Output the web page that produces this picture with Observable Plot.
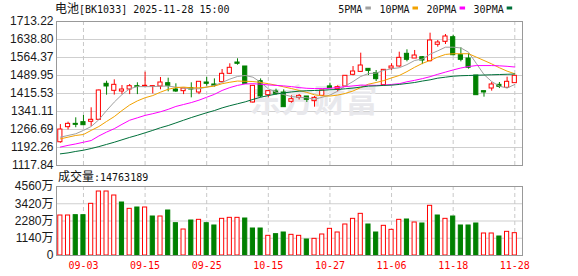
<!DOCTYPE html>
<html><head><meta charset="utf-8">
<script src="https://cdn.jsdelivr.net/npm/d3@7"></script>
<script src="https://cdn.jsdelivr.net/npm/@observablehq/plot@0.6"></script>
<style>
body{margin:0;background:#fff;}
#wrap{position:relative;width:578px;height:276px;overflow:hidden;background:#fff;}
#wrap svg{position:absolute;left:0;}
</style></head><body><div id="wrap"></div>
<script>
// ---- data ----
const dates = ["08-29","09-01","09-02","09-03","09-04","09-05","09-08","09-09","09-10","09-11","09-12","09-15","09-16","09-17","09-18","09-19","09-22","09-23","09-24","09-25","09-26","09-29","09-30","10-09","10-10","10-13","10-14","10-15","10-16","10-17","10-20","10-21","10-22","10-23","10-24","10-27","10-28","10-29","10-30","10-31","11-03","11-04","11-05","11-06","11-07","11-10","11-11","11-12","11-13","11-14","11-17","11-18","11-19","11-20","11-21","11-24","11-25","11-26","11-27","11-28"];
const open = [1214,1276.3,1290,1297,1298.5,1306.8,1455.6,1426.6,1423.8,1432,1445.8,1444.5,1444.5,1444.5,1458.2,1432,1425.2,1437.6,1419.7,1461,1452.8,1462.5,1496.9,1543.7,1527.2,1378.4,1466.5,1408.6,1423.8,1419.7,1381.2,1397.6,1403.2,1383.8,1405.9,1445,1433.4,1444.5,1492.8,1505,1517.5,1499.5,1450,1518.9,1527.2,1579.6,1560.2,1565.6,1549.1,1616.9,1629.2,1648.3,1573.9,1560.2,1490,1425.2,1436.2,1451.4,1439,1458.3];
const high = [1287,1297,1315,1324.6,1356.4,1430,1466.5,1472,1448.6,1452.8,1459.8,1503.7,1446.5,1481.7,1478.9,1455.6,1436.2,1459.8,1463.9,1483,1476,1514.8,1538.3,1559,1527.2,1449,1476,1427.9,1433.4,1430.8,1406,1411.3,1403.2,1403.2,1428,1458,1447,1489.5,1527,1582.3,1518,1510.6,1513.4,1538.3,1586.3,1596.2,1593.4,1568.4,1664.9,1634.7,1659.5,1656.7,1604.5,1579.6,1490,1425.2,1461,1461,1483,1488.7];
const low = [1210,1265,1274,1282,1279,1304,1408.6,1409,1411,1411,1411,1444.5,1414,1430.8,1422.5,1419.7,1411,1397.6,1411,1446,1441.7,1461,1494,1532.6,1452.8,1375.6,1397.6,1397.6,1408.6,1359,1375.6,1389,1378.4,1359,1403,1436,1422.5,1443,1488.7,1503,1490,1465.2,1447,1510.6,1524.4,1546.5,1560.2,1535,1546,1607,1618.1,1571,1546.5,1516,1408.6,1400.4,1425.2,1436,1436,1458.3];
const close = [1266.6,1290,1286,1284.5,1306.8,1428,1444.5,1451.4,1432,1445.8,1443,1447.3,1446,1461,1447.3,1423.8,1436.2,1432,1463.9,1455.6,1447.3,1496.9,1521.8,1538.3,1455.6,1447.3,1403.2,1425.2,1414.2,1359,1392,1405.9,1389.4,1397.6,1428,1438,1441.7,1488.7,1506.5,1531.3,1509,1474.7,1513.4,1527.2,1563,1554.8,1572.6,1551.9,1634.7,1626.4,1651.2,1573.9,1554.8,1521.8,1408.6,1419.7,1452.8,1443.1,1463.9,1488.7];
const ma5 = [1235,1242,1249,1263,1279,1307,1345,1380,1411,1435,1444,1444,1444,1446,1446,1442,1438,1435,1435,1442,1449,1461,1475,1486,1490,1483,1462,1435,1421,1411,1403,1400,1398,1392,1400,1409,1425,1447,1465,1486,1498,1500,1511,1518,1522,1535,1552,1558,1578,1592,1607,1607,1604,1586,1540,1494,1465,1446,1438,1453];
const ma10 = [1228,1235,1242,1246,1263,1279,1300,1320,1345,1368,1385,1398,1407,1421,1433,1440,1442,1439,1439,1442,1446,1456,1462,1467,1466,1465,1461,1456,1450,1443,1436,1428,1420,1410,1406,1405,1409,1416,1426,1440,1454,1461,1469,1480,1490,1506,1524,1540,1552,1566,1577,1580,1580,1580,1566,1552,1538,1522,1508,1497];
const ma20 = [1194,1201,1207,1214,1221,1240,1256,1270,1288,1305,1315,1325,1332,1340,1350,1362,1370,1378,1388,1400,1412,1428,1440,1449,1455,1456,1454,1451,1449,1447,1444,1440,1437,1436,1436,1437,1440,1444,1447,1450,1450,1449,1450,1453,1456,1464,1470,1477,1485,1495,1504,1513,1521,1527,1531,1531,1531,1530,1528,1525];
const ma30 = [1166,1170,1176,1181,1188,1196,1205,1214,1224,1234,1243,1253,1263,1274,1283,1294,1305,1316,1326,1336,1345,1356,1365,1373,1381,1391,1400,1407,1413,1418,1422,1425,1427,1428,1429,1431,1432,1435,1438,1442,1446,1447,1449,1450,1453,1457,1461,1467,1472,1479,1483,1487,1489,1490,1491,1492,1493,1494,1495,1496];
const volume = [2643,2643,2665,2665,3415,4229,4229,3965,3502,3084,3172,3172,2577,2577,2974,2136,1718,2313,2357,2136,1983,2423,2489,2489,2445,1784,1784,1300,1410,1520,1366,1300,1057,1101,1388,1762,1520,2049,2423,2753,2049,1520,1961,1696,2357,2379,2181,2115,3283,2643,2423,2577,1983,1983,2115,1454,1454,1256,1564,1476];
const priceTicks = [1117.84,1192.26,1266.69,1341.11,1415.53,1489.95,1564.37,1638.80,1713.22];
const volTicks = [0,1140,2280,3420,4560];
const xTickLabels = ["09-03","09-15","09-25","10-15","10-27","11-06","11-18","11-28"];
const titleName = "电池";
const titleRest = "[BK1033] 2025-11-28 15:00";
const volLabel = "成交量";
const volTotal = "14763189";
const maNames = ["5PMA","10PMA","20PMA","30PMA"];
const watermark = "东方财富";

// ---- styles ----
const RED = "#ff0000", GREEN = "#008000";
const maColors = ["#a0a0a0","#f2a200","#ff00ff","#00703a"];
const GRID = "#cfcfcf", FRAME = "#999999";
const MONO = "'DejaVu Sans Mono', 'Liberation Mono', monospace";
const CJK = "'Noto Sans CJK SC', sans-serif";
const SANS = "'Liberation Sans', Arial, 'Noto Sans CJK SC', sans-serif";

const rows = dates.map((d, i) => ({
  i, date: d, open: open[i], high: high[i], low: low[i], close: close[i],
  ma5: ma5[i], ma10: ma10[i], ma20: ma20[i], ma30: ma30[i], vol: volume[i],
  up: close[i] >= open[i],
  volUp: i === 0 || close[i] >= close[i - 1]
}));
const xTickIdx = xTickLabels.map(l => dates.indexOf(l));
const maKeys = ["ma5","ma10","ma20","ma30"];
const HW = 0.27;
const xDomain = [-0.5, dates.length];

const wrap = document.getElementById("wrap");

const price = Plot.plot({
  width: 578, height: 180,
  marginLeft: 56, marginRight: 56, marginTop: 21, marginBottom: 15,
  style: {fontFamily: SANS, fontSize: "12px", color: "#1a1a1a", background: "transparent"},
  x: {type: "linear", domain: xDomain, axis: null},
  y: {domain: [priceTicks[0], priceTicks[priceTicks.length - 1]], label: null},
  marks: [
    Plot.ruleY(priceTicks.slice(1, -1), {stroke: GRID}),
    Plot.ruleX(xTickIdx, {stroke: "#c8c8c8", strokeDasharray: "4,3"}),
    Plot.text([watermark], {frameAnchor: "middle", dx: 24, dy: 8, text: d => d, fontSize: 32, fontWeight: "bold", fill: "#e8e8ec", fontFamily: CJK}),
    Plot.ruleX(rows, {x: "i", y1: "low", y2: "high", stroke: d => d.up ? RED : GREEN, strokeWidth: 1}),
    Plot.rect(rows, {x1: d => d.i - HW, x2: d => d.i + HW, y1: "open", y2: "close",
      fill: d => d.up ? "#ffffff" : GREEN, stroke: d => d.up ? RED : GREEN, strokeWidth: 1}),
    ...maKeys.map((k, j) => Plot.line(rows, {x: "i", y: k, stroke: maColors[j], strokeWidth: 1})),
    Plot.frame({stroke: FRAME}),
    Plot.axisY(priceTicks, {tickSize: 0, tickPadding: 3, tickFormat: d => d.toFixed(2), label: null, fontSize: 12, fontFamily: SANS})
  ]
});
price.style.top = "0px";
wrap.appendChild(price);

const vol = Plot.plot({
  width: 578, height: 106,
  marginLeft: 56, marginRight: 56, marginTop: 16, marginBottom: 21,
  style: {fontFamily: SANS, fontSize: "12px", color: "#1a1a1a", background: "transparent"},
  x: {type: "linear", domain: xDomain, label: null},
  y: {domain: [volTicks[0], volTicks[volTicks.length - 1]], label: null},
  marks: [
    Plot.ruleY(volTicks.slice(1, -1), {stroke: GRID}),
    Plot.ruleX(xTickIdx, {stroke: "#c8c8c8", strokeDasharray: "4,3"}),
    Plot.rect(rows, {x1: d => d.i - HW, x2: d => d.i + HW, y1: d => 0, y2: "vol",
      fill: d => d.volUp ? "#ffffff" : GREEN, stroke: d => d.volUp ? RED : GREEN, strokeWidth: 1}),
    Plot.frame({stroke: FRAME}),
    Plot.axisY(volTicks, {tickSize: 0, tickPadding: 3, tickFormat: d => d === 0 ? "0" : d + "万", label: null, fontSize: 12, fontFamily: SANS}),
    Plot.axisX(xTickIdx, {tickSize: 0, tickPadding: 6, tickFormat: i => dates[i], label: null, color: RED, fontSize: 10, fontFamily: MONO})
  ]
});
vol.style.top = "170px";
wrap.appendChild(vol);

// ---- header texts and legend ----
const over = d3.create("svg").attr("width", 578).attr("height", 276).style("top", "0px");
const t = over.append("text").attr("x", 55).attr("y", 12.5).attr("fill", "#111");
t.append("tspan").attr("font-family", CJK).attr("font-size", 12).text(titleName);
t.append("tspan").attr("font-family", MONO).attr("font-size", 10).text(titleRest);

let lx = 338.3;
maNames.forEach((n, j) => {
  over.append("text").attr("x", lx).attr("y", 12.5).attr("font-family", MONO).attr("font-size", 10).attr("fill", "#111").text(n);
  lx += n.length * 6.02 + 3;
  over.append("rect").attr("x", lx).attr("y", 6.5).attr("width", 5.5).attr("height", 3).attr("fill", maColors[j]);
  lx += 5.5 + 8.5;
});

const vt = over.append("text").attr("x", 58).attr("y", 181).attr("fill", "#111");
vt.append("tspan").attr("font-family", CJK).attr("font-size", 12).text(volLabel);
vt.append("tspan").attr("font-family", MONO).attr("font-size", 10).text(":" + volTotal);
wrap.appendChild(over.node());
</script>
</body></html>
